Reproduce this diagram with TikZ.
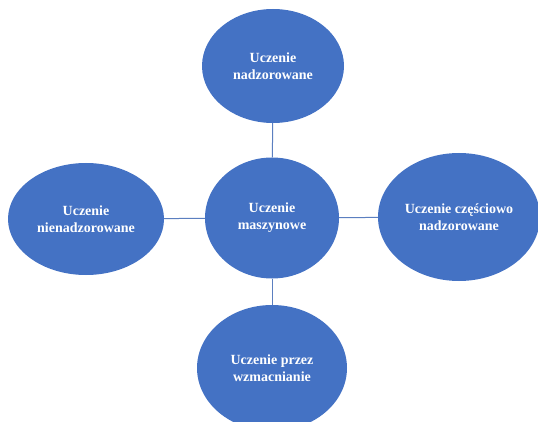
\documentclass[tikz,border=0pt]{standalone}
\usepackage{fontspec}
\setmainfont{Liberation Serif}
\usetikzlibrary{shapes.geometric}
\definecolor{mlblue}{HTML}{4472C4}
\definecolor{mlline}{HTML}{5B7FC0}
\tikzset{
  bubble/.style={ellipse, fill=mlblue, inner xsep=-20pt, inner ysep=0pt, text=white, align=center,
    font=\fontsize{14}{17}\selectfont\bfseries},
  link/.style={draw=mlline, line width=1pt}
}
\begin{document}
\begin{tikzpicture}[x=1pt, y=-1pt]
    \useasboundingbox (0,0) rectangle (538,422);
    \clip (0,0) rectangle (538,422);
    % central topic
    \node[bubble, minimum width=134pt, minimum height=121pt] (mid) at (272,218) {Uczenie\\maszynowe};
    % four kinds of learning
    \node[bubble, minimum width=142pt, minimum height=114pt] (top) at (273,66) {Uczenie\\nadzorowane};
    \node[bubble, minimum width=156pt, minimum height=112pt] (left) at (86,219) {Uczenie\\nienadzorowane};
    \node[bubble, minimum width=162pt, minimum height=128pt] (right) at (459,217) {Uczenie częściowo\\nadzorowane};
    \node[bubble, minimum width=150pt, minimum height=126pt] (bottom) at (272,368) {Uczenie przez\\wzmacnianie};
    \draw[link] (mid) -- (top);
    \draw[link] (mid) -- (left);
    \draw[link] (mid) -- (right);
    \draw[link] (mid) -- (bottom);
\end{tikzpicture}
\end{document}
